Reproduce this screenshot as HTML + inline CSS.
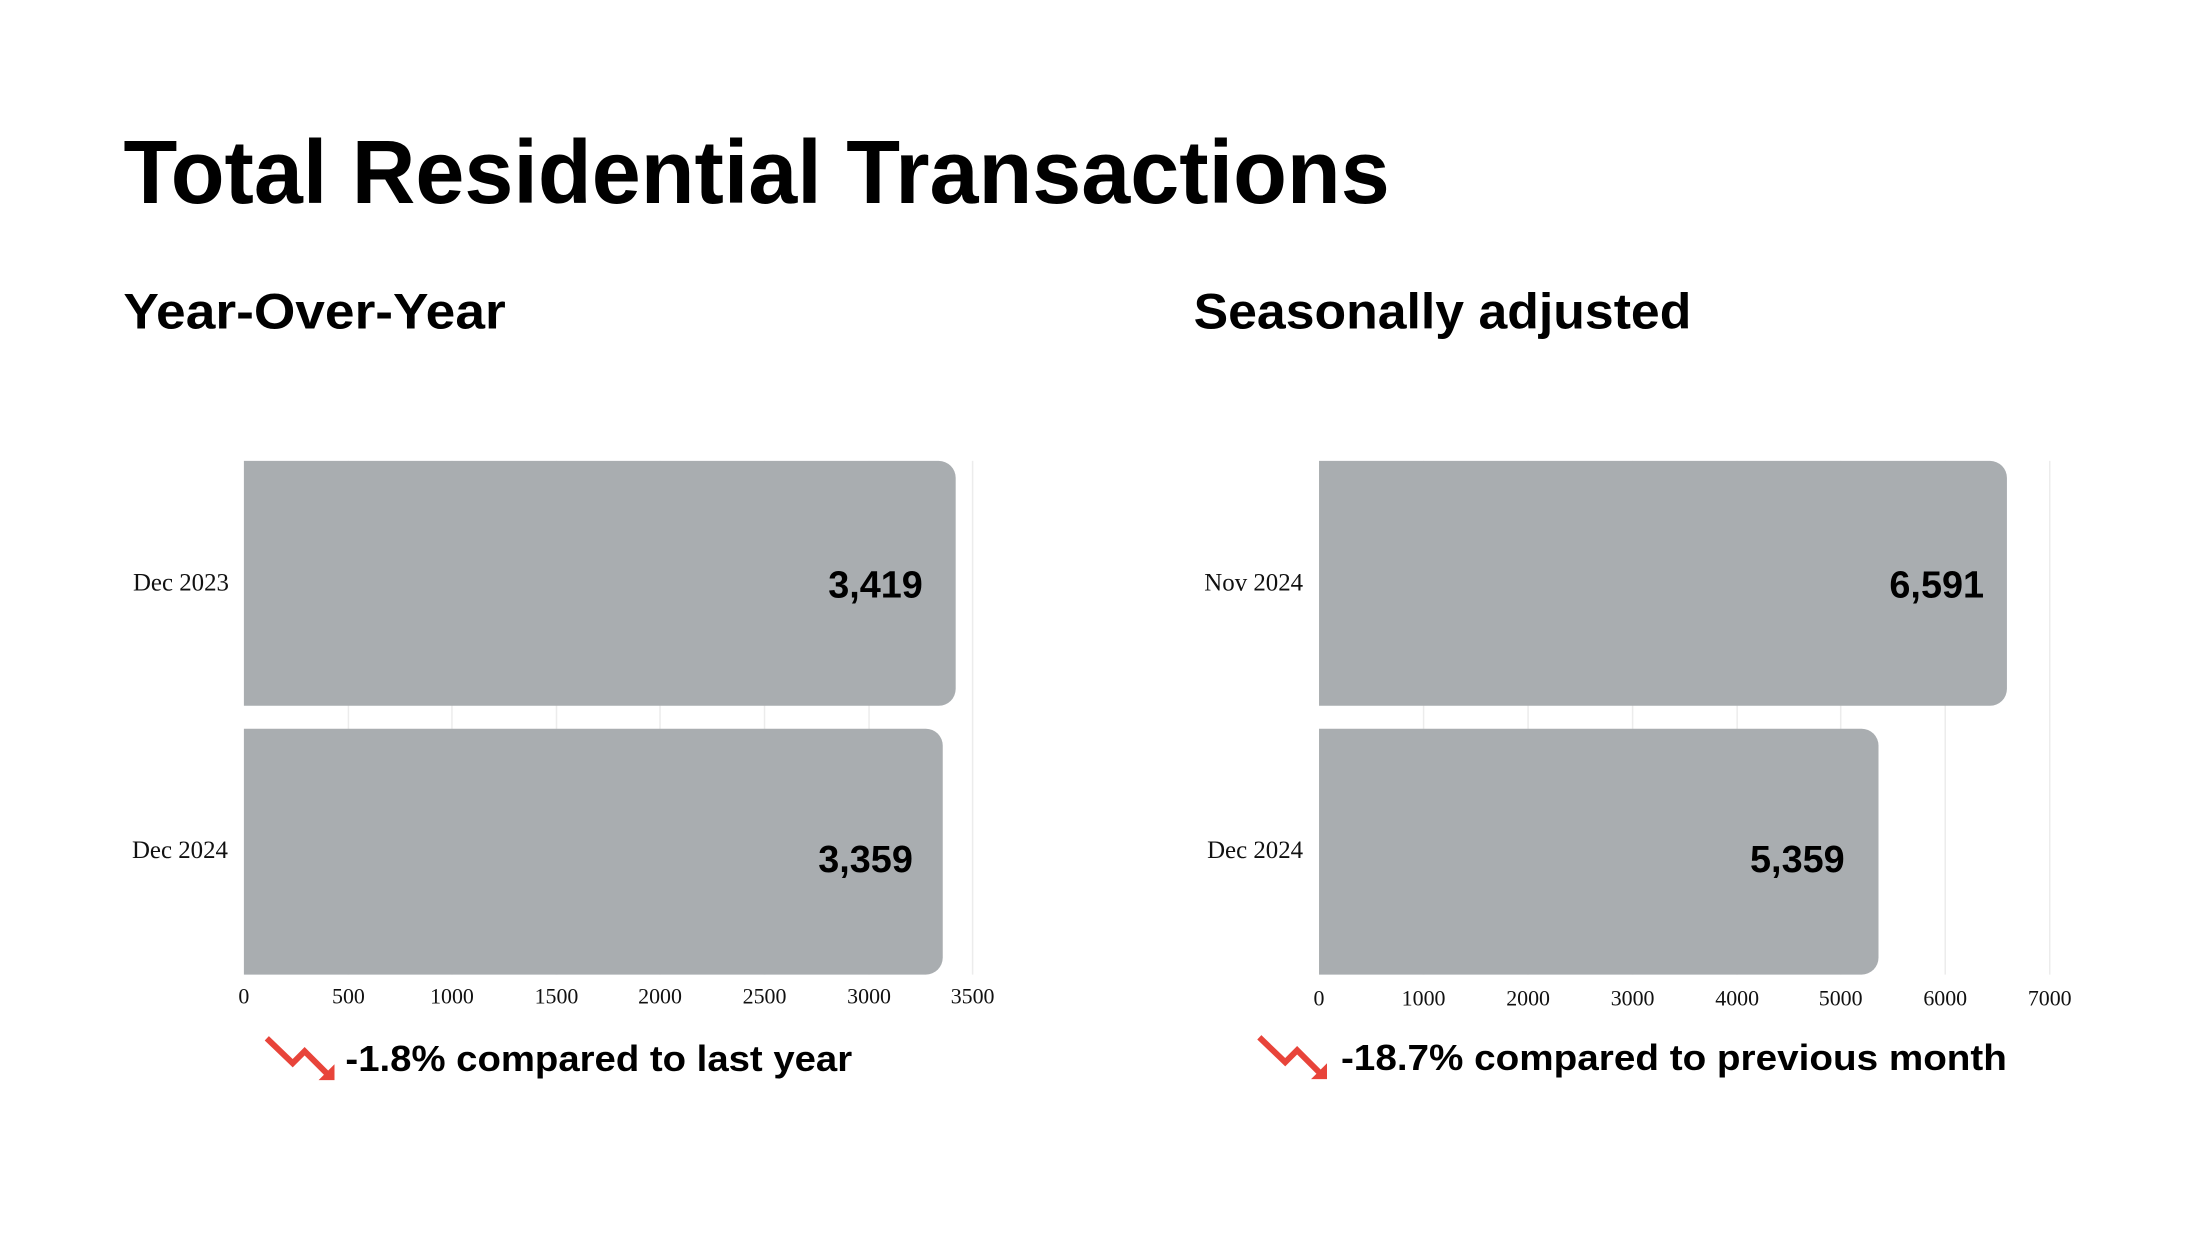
<!DOCTYPE html>
<html><head><meta charset="utf-8"><style>
html,body{margin:0;padding:0;background:#fff;}
svg{display:block}
.s{font-family:"Liberation Sans",sans-serif;font-weight:bold;fill:#000}
.r{font-family:"Liberation Serif",serif;fill:#111}
</style></head><body>
<svg width="2200" height="1237" viewBox="0 0 2200 1237" xmlns="http://www.w3.org/2000/svg">
<rect width="2200" height="1237" fill="#fff"/>
<g transform="scale(0.9955)">
<text class="s" x="124" y="204" font-size="90" textLength="1272" lengthAdjust="spacingAndGlyphs">Total Residential Transactions</text>
<text class="s" x="124" y="330" font-size="50" textLength="384" lengthAdjust="spacingAndGlyphs">Year-Over-Year</text>
<text class="s" x="1199" y="330" font-size="50" textLength="500" lengthAdjust="spacingAndGlyphs">Seasonally adjusted</text>

<g stroke="#ececec" stroke-width="1.5">
<line x1="350" y1="463" x2="350" y2="979"/><line x1="454" y1="463" x2="454" y2="979"/>
<line x1="559" y1="463" x2="559" y2="979"/><line x1="663" y1="463" x2="663" y2="979"/>
<line x1="768" y1="463" x2="768" y2="979"/><line x1="873" y1="463" x2="873" y2="979"/>
<line x1="977" y1="463" x2="977" y2="979"/>
<line x1="1430" y1="463" x2="1430" y2="979"/><line x1="1535" y1="463" x2="1535" y2="979"/>
<line x1="1640" y1="463" x2="1640" y2="979"/><line x1="1745" y1="463" x2="1745" y2="979"/>
<line x1="1849" y1="463" x2="1849" y2="979"/><line x1="1954" y1="463" x2="1954" y2="979"/>
<line x1="2059" y1="463" x2="2059" y2="979"/>
</g>
<path d="M245 463 H943 A17 17 0 0 1 960 480 V692 A17 17 0 0 1 943 709 H245 Z" fill="#a9adb0"/>
<path d="M245 732 H930 A17 17 0 0 1 947 749 V962 A17 17 0 0 1 930 979 H245 Z" fill="#a9adb0"/>
<path d="M1325 463 H1999 A17 17 0 0 1 2016 480 V692 A17 17 0 0 1 1999 709 H1325 Z" fill="#a9adb0"/>
<path d="M1325 732 H1870 A17 17 0 0 1 1887 749 V962 A17 17 0 0 1 1870 979 H1325 Z" fill="#a9adb0"/>

<g class="s" font-size="38" text-anchor="end">
<text x="927" y="600">3,419</text>
<text x="917" y="876">3,359</text>
<text x="1993" y="600">6,591</text>
<text x="1853" y="876">5,359</text>
</g>
<g class="r" font-size="25" text-anchor="end">
<text x="230" y="593">Dec 2023</text>
<text x="229" y="862">Dec 2024</text>
<text x="1309" y="593">Nov 2024</text>
<text x="1309" y="862">Dec 2024</text>
</g>
<g class="r" font-size="22" text-anchor="middle">
<text x="245" y="1008">0</text><text x="350" y="1008">500</text><text x="454" y="1008">1000</text>
<text x="559" y="1008">1500</text><text x="663" y="1008">2000</text><text x="768" y="1008">2500</text>
<text x="873" y="1008">3000</text><text x="977" y="1008">3500</text>
<text x="1325" y="1010">0</text><text x="1430" y="1010">1000</text><text x="1535" y="1010">2000</text>
<text x="1640" y="1010">3000</text><text x="1745" y="1010">4000</text><text x="1849" y="1010">5000</text>
<text x="1954" y="1010">6000</text><text x="2059" y="1010">7000</text>
</g>
<g stroke="#e8443a" stroke-width="6" fill="none">
<polyline points="268,1043 294,1068 306,1056 328,1078"/>
<polyline points="1265,1042 1291,1067 1303,1055 1325,1077"/>
</g>
<polygon points="336,1085 320,1085 336,1069" fill="#e8443a"/>
<polygon points="1333,1084 1317,1084 1333,1068" fill="#e8443a"/>
<text class="s" x="347" y="1076" font-size="36" textLength="509" lengthAdjust="spacingAndGlyphs">-1.8% compared to last year</text>
<text class="s" x="1347" y="1075" font-size="36" textLength="669" lengthAdjust="spacingAndGlyphs">-18.7% compared to previous month</text>
</g>
</svg>
</body></html>
